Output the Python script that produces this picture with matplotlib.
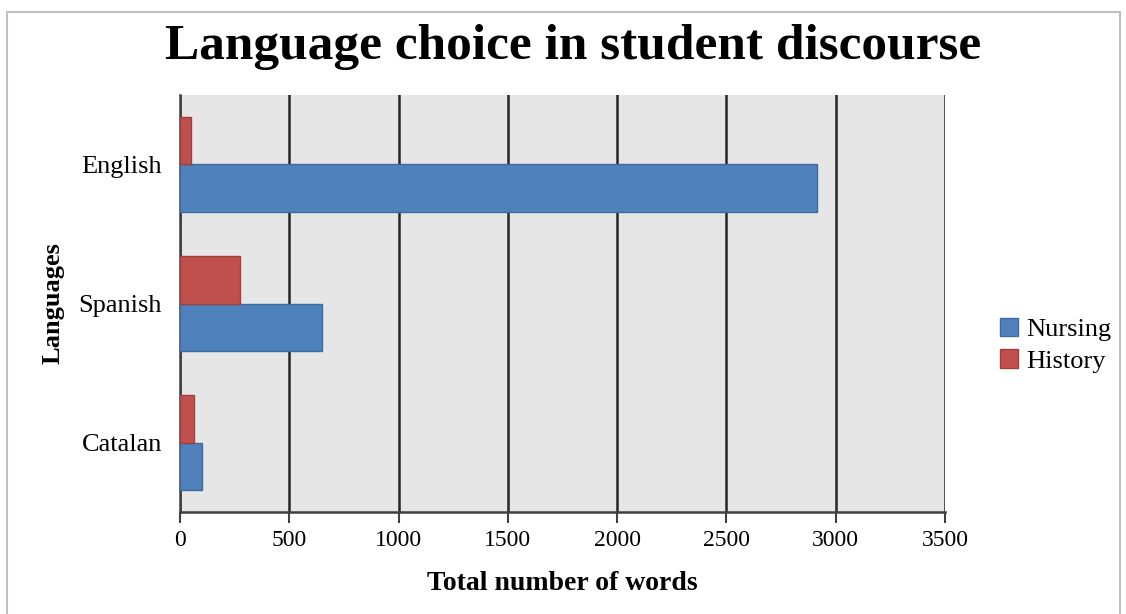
import numpy as np
import matplotlib
matplotlib.use('Agg')
import matplotlib.pyplot as plt
from matplotlib.patches import Rectangle

plt.rcParams['font.family'] = ['Liberation Serif', 'DejaVu Serif']

languages = ['Catalan', 'Spanish', 'English']
nursing = [100, 650, 2915]
history = [65, 275, 50]
series_names = ['Nursing', 'History']
colours = ['#4F81BD', '#C0504D']
edges = ['#3F6C9F', '#A0403D']
x_ticks = [0, 500, 1000, 1500, 2000, 2500, 3000, 3500]

fig = plt.figure(figsize=(11.26, 6.14), dpi=100)
ax = fig.add_axes([0.1599, 0.1661, 0.6794, 0.6792])

# chart area border
fig.patches.append(Rectangle((7 / 1126, -0.05), 1113 / 1126, 1 - 12 / 614 + 0.05,
                             transform=fig.transFigure, fill=False,
                             edgecolor='#BFBFBF', linewidth=1.5))

y = np.arange(len(languages))
h = 0.34
ax.barh(y - h / 2, nursing, height=h, color=colours[0], edgecolor=edges[0],
        linewidth=1, label=series_names[0], zorder=3)
ax.barh(y + h / 2, history, height=h, color=colours[1], edgecolor=edges[1],
        linewidth=1, label=series_names[1], zorder=3)

ax.set_facecolor('#E6E6E6')
ax.set_xlim(0, 3500)
ax.set_ylim(-0.5, 2.5)
ax.set_xticks(x_ticks)
ax.set_xticklabels([str(t) for t in x_ticks], fontsize=17)
ax.set_yticks(y)
ax.set_yticklabels(languages, fontsize=19)
ax.tick_params(axis='y', length=0, pad=13)
ax.tick_params(axis='x', length=8, width=1.5, color='#404040', pad=5)
ax.xaxis.grid(True, color='#262626', linewidth=1.8, zorder=1)
ax.set_axisbelow(True)
for s in ['top', 'right']:
    ax.spines[s].set_visible(False)
for s in ['left', 'bottom']:
    ax.spines[s].set_color('#404040')
    ax.spines[s].set_linewidth(1.8)

ax.set_xlabel('Total number of words', fontsize=20, fontweight='bold', labelpad=14)
ax.set_ylabel('Languages', fontsize=19, fontweight='bold', labelpad=10)

fig.text(0.509, 1 - 59 / 614, 'Language choice in student discourse', ha='center',
         va='baseline', fontsize=37, fontweight='bold')

ax.legend(loc='center left', bbox_to_anchor=(1.058, 0.40), frameon=False,
          fontsize=19, handlelength=0.7, handleheight=0.7, handletextpad=0.3,
          labelspacing=0.3, borderaxespad=0)

fig.savefig('out.png', dpi=100)
